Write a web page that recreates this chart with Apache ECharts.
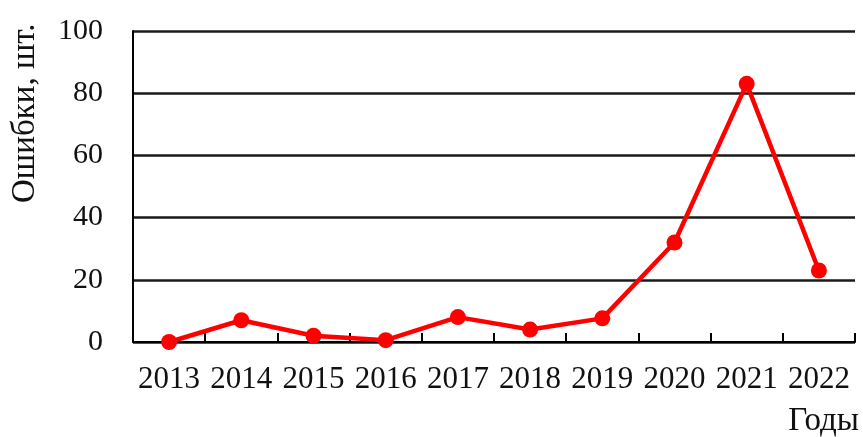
<!DOCTYPE html>
<html>
<head>
<meta charset="utf-8">
<script src="https://cdn.jsdelivr.net/npm/echarts@6/dist/echarts.min.js"></script>
<style>html,body{margin:0;padding:0;background:#fff}#c{width:863px;height:437px}</style>
</head>
<body>
<div id="c"></div>
<script>
const categories = ['2013','2014','2015','2016','2017','2018','2019','2020','2021','2022'];
const errors = [0, 7, 2, 0.6, 8, 4, 7.6, 32, 83, 23];
const yTicks = { min: 0, max: 100, interval: 20 };
const yTitle = 'Ошибки, шт.';
const xTitle = 'Годы';

const font = '"Liberation Serif", "Times New Roman", serif';
const chart = echarts.init(document.getElementById('c'));
chart.setOption({
  animation: false,
  grid: { left: 133, right: 8, top: 31, bottom: 95 },
  xAxis: {
    type: 'category',
    data: categories,
    boundaryGap: true,
    axisLine: { lineStyle: { color: '#000', width: 2 } },
    axisTick: { show: true, inside: true, length: 9, lineStyle: { color: '#000', width: 2 } },
    axisLabel: { interval: 0, color: '#111', fontFamily: font, fontSize: 31, margin: 22 }
  },
  yAxis: {
    type: 'value',
    min: yTicks.min, max: yTicks.max, interval: yTicks.interval,
    axisLine: { show: true, lineStyle: { color: '#000', width: 2 } },
    axisTick: { show: false },
    splitLine: { lineStyle: { color: '#1a1a1a', width: 2.5 } },
    axisLabel: { color: '#111', fontFamily: font, fontSize: 30, margin: 30 }
  },
  graphic: [
    { type: 'text', x: 25, y: 203, rotation: Math.PI / 2,
      style: { text: yTitle, font: '33px ' + font, fill: '#111', textAlign: 'left', textVerticalAlign: 'middle' } },
    { type: 'text', x: 859, y: 421,
      style: { text: xTitle, font: '33px ' + font, fill: '#111', textAlign: 'right', textVerticalAlign: 'middle' } }
  ],
  series: [{
    type: 'line',
    data: errors,
    symbol: 'circle',
    symbolSize: 16,
    lineStyle: { color: '#ff0000', width: 4.5 },
    itemStyle: { color: '#ff0000' }
  }]
});
</script>
</body>
</html>
